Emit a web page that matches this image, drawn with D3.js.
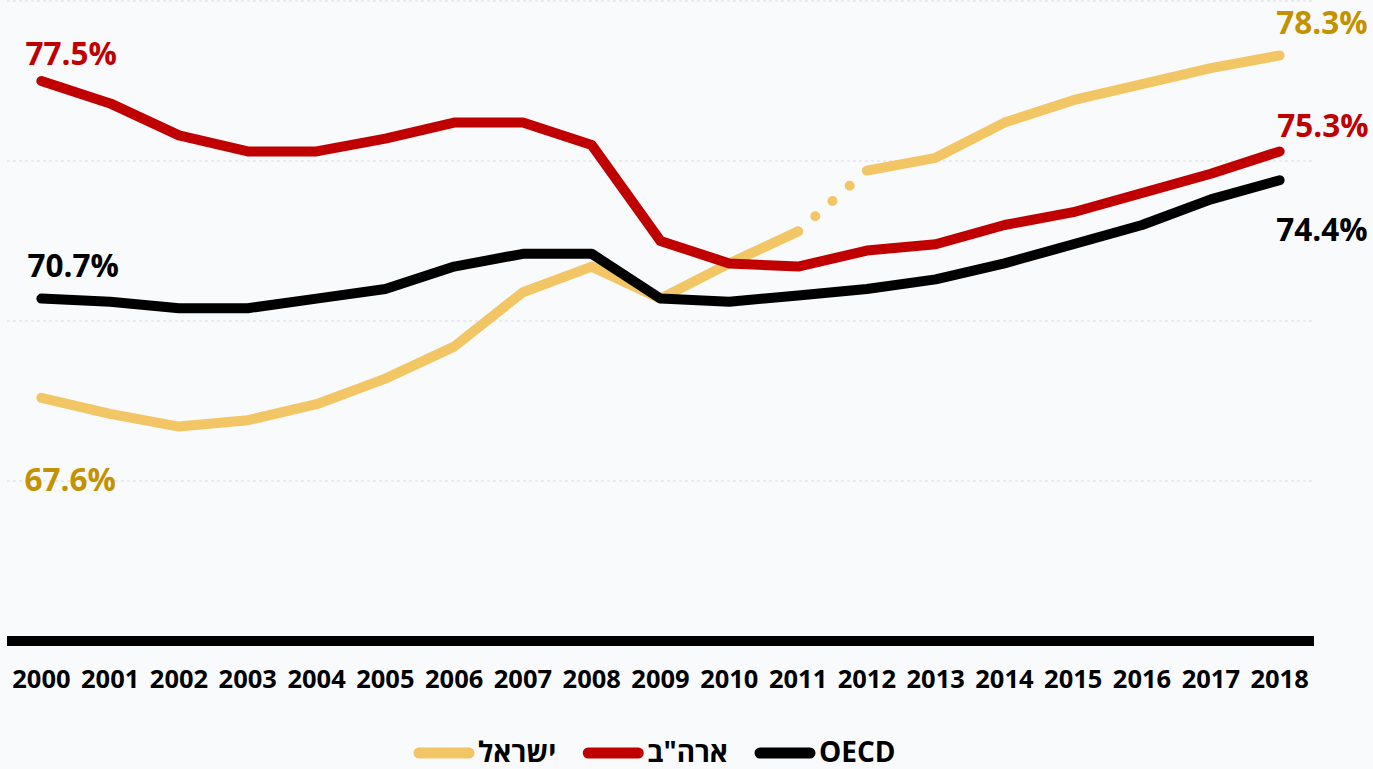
<!DOCTYPE html>
<html><head><meta charset="utf-8">
<script src="https://cdn.jsdelivr.net/npm/d3@7"></script>
<style>
html,body{margin:0;padding:0;background:#f9fafc;}
svg{display:block;font-family:"Open Sans","Noto Sans",sans-serif;}
</style></head>
<body>
<svg id="chart" width="1373" height="769"></svg>
<script>
const years = [2000,2001,2002,2003,2004,2005,2006,2007,2008,2009,2010,2011,2012,2013,2014,2015,2016,2017,2018];
const israel = [67.6,67.1,66.7,66.9,67.4,68.2,69.2,70.9,71.7,70.7,71.8,72.8,74.7,75.1,76.2,76.9,77.4,77.9,78.3];
const usa    = [77.5,76.8,75.8,75.3,75.3,75.7,76.2,76.2,75.5,72.5,71.8,71.7,72.2,72.4,73.0,73.4,74.0,74.6,75.3];
const oecd   = [70.7,70.6,70.4,70.4,70.7,71.0,71.7,72.1,72.1,70.7,70.6,70.8,71.0,71.3,71.8,72.4,73.0,73.8,74.4];
const gridTicks = [65,70,75,80];
const seriesNames = ["ישראל","ארה\"ב","OECD"];
const gapYears = [2011,2012]; // Israel: dotted segment

const W = 1373, H = 769;
const svg = d3.select("#chart");
const x = d3.scaleBand().domain(years).range([7,1314]);
const xc = d => x(d) + x.bandwidth()/2;
const y = d3.scaleLinear().domain([60,80]).range([641,1]);

// grid
svg.append("g").selectAll("line").data(gridTicks).join("line")
  .attr("x1",7).attr("x2",1314).attr("y1",d=>y(d)).attr("y2",d=>y(d))
  .attr("stroke","#d9dbe0").attr("stroke-width",1).attr("stroke-dasharray","3,3");

// baseline
svg.append("line").attr("x1",7).attr("x2",1314).attr("y1",y(60)).attr("y2",y(60))
  .attr("stroke","#000").attr("stroke-width",10);

// x axis
const xAxis = d3.axisBottom(x).tickSize(0).tickPadding(0);
const gx = svg.append("g").attr("transform",`translate(0,${y(60)+47})`).call(xAxis);
gx.select(".domain").remove();
gx.selectAll("text").attr("font-size",25.5).attr("font-weight",700).attr("fill","#000")
  .attr("font-family","'Open Sans','Noto Sans',sans-serif").attr("dy",0);

const line = d3.line().x(d=>xc(d[0])).y(d=>y(d[1]));
const colors = {israel:"#f2c665", usa:"#c00000", oecd:"#000000"};
const labelColors = {israel:"#c49200", usa:"#c00000", oecd:"#000000"};

// Israel: solid parts + dotted gap
const isr = years.map((yr,i)=>[yr,israel[i]]);
const gi = years.indexOf(gapYears[0]);
const part1 = isr.slice(0,gi+1), part2 = isr.slice(gi+1), gap = isr.slice(gi,gi+2);
[part1,part2].forEach(p=>svg.append("path").attr("d",line(p)).attr("fill","none")
  .attr("stroke",colors.israel).attr("stroke-width",10).attr("stroke-linecap","round").attr("stroke-linejoin","round"));
const gapPath = svg.append("path").attr("d",line(gap)).attr("fill","none")
  .attr("stroke",colors.israel).attr("stroke-width",10).attr("stroke-linecap","round");
const L = gapPath.node().getTotalLength();
gapPath.attr("stroke-dasharray",`0,${L/4}`);

[["usa",usa],["oecd",oecd]].forEach(([k,vals])=>{
  svg.append("path").attr("d",line(years.map((yr,i)=>[yr,vals[i]]))).attr("fill","none")
    .attr("stroke",colors[k]).attr("stroke-width",10).attr("stroke-linecap","round").attr("stroke-linejoin","round");
});

// value labels
const fmt = v => v.toFixed(1)+"%";
const last = years.length-1;
const labels = [
  {k:"usa", v:usa[0], x:xc(years[0])-16, y:y(usa[0])-16, a:"start"},
  {k:"oecd", v:oecd[0], x:xc(years[0])-14, y:y(oecd[0])-22, a:"start"},
  {k:"israel", v:israel[0], x:xc(years[0])-17, y:y(israel[0])+93, a:"start"},
  {k:"israel", v:israel[last], x:xc(years[last])+88, y:y(israel[last])-21, a:"end"},
  {k:"usa", v:usa[last], x:xc(years[last])+89, y:y(usa[last])-14, a:"end"},
  {k:"oecd", v:oecd[last], x:xc(years[last])+88, y:y(oecd[last])+61, a:"end"}
];
svg.append("g").selectAll("text").data(labels).join("text")
  .attr("x",d=>d.x).attr("y",d=>d.y).attr("text-anchor",d=>d.a)
  .attr("font-size",31.5).attr("font-weight",700).attr("fill",d=>labelColors[d.k])
  .text(d=>fmt(d.v));

// legend
const leg = svg.append("g");
let cx = 419;
const legKeys = ["israel","usa","oecd"];
legKeys.forEach((k,i)=>{
  leg.append("line").attr("x1",cx).attr("x2",cx+50).attr("y1",753).attr("y2",753)
    .attr("stroke",colors[k]).attr("stroke-width",11).attr("stroke-linecap","round");
  const t = leg.append("text").attr("x",cx+59).attr("y",762).attr("font-size",28)
    .attr("font-weight",700).attr("fill","#000").text(seriesNames[i]);
  const w = t.node().getComputedTextLength();
  cx = cx + 59 + w + 32;
});
</script>
</body></html>
